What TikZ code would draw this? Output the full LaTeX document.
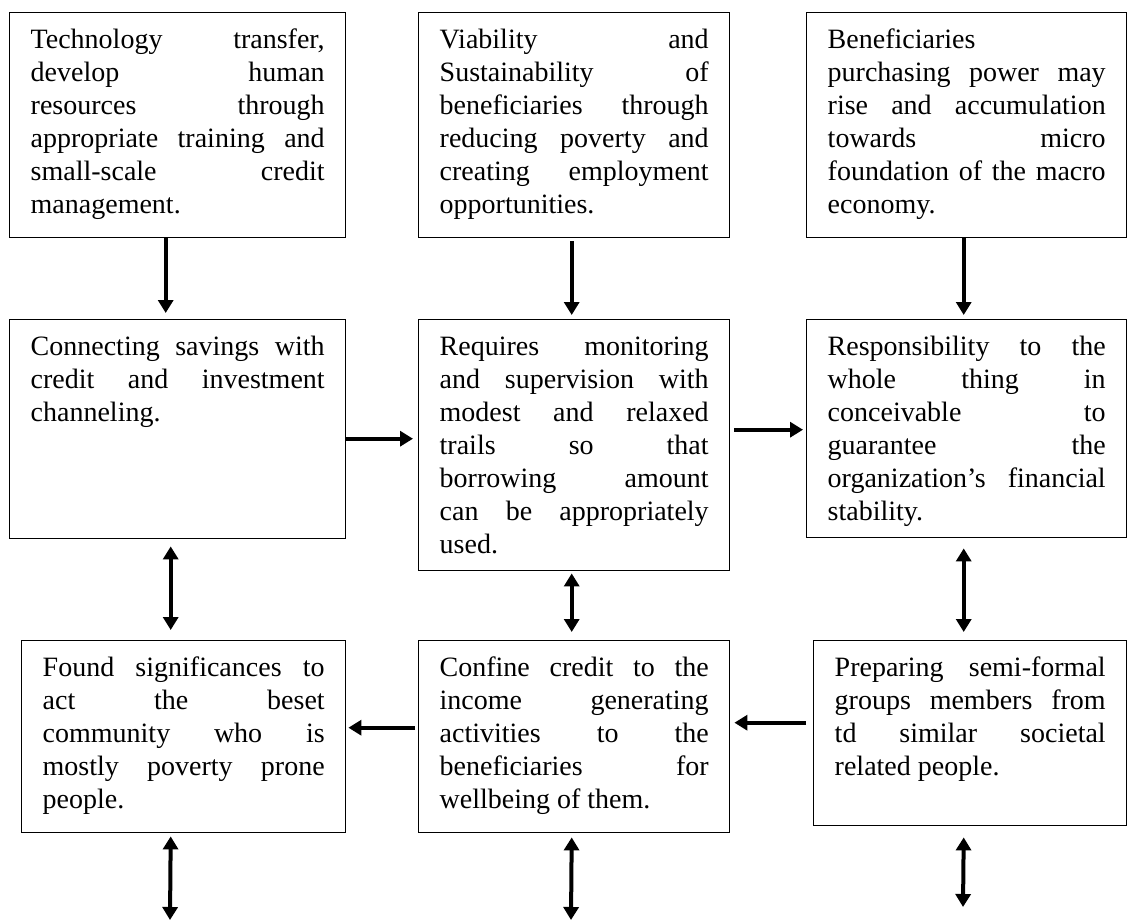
\documentclass[tikz,border=0pt]{standalone}
\usepackage{fontspec}
\setmainfont{Liberation Serif}
\usetikzlibrary{arrows.meta}

\begin{document}
\begin{tikzpicture}[x=0.5pt,y=-0.5pt,
  flowbox/.style={draw, line width=0.7pt, anchor=north west, align=justify,
    inner xsep=10.5pt, inner ysep=0pt, text height=18pt,
    font=\fontsize{14pt}{16.5pt}\selectfont},
  arr/.style={line width=2pt, -{Triangle[length=6.5pt,width=7.5pt]}},
  dbl/.style={line width=2pt, {Triangle[length=6.5pt,width=7.5pt]}-{Triangle[length=6.5pt,width=7.5pt]}}]
\useasboundingbox (0,0) rectangle (1127,920);
\node[flowbox, text width=147pt, text depth=94.5pt] (tech) at (9,12) {Technology transfer,\linebreak develop human\linebreak resources through\linebreak appropriate training and\linebreak small-scale credit\linebreak management.};
\node[flowbox, text width=134.5pt, text depth=94.5pt] (viab) at (418,12) {Viability and\linebreak Sustainability of\linebreak beneficiaries through\linebreak reducing poverty and\linebreak creating employment\linebreak opportunities.};
\node[flowbox, text width=139pt, text depth=94.5pt] (purch) at (806,12) {Beneficiaries\linebreak purchasing power may\linebreak rise and accumulation\linebreak towards micro\linebreak foundation of the macro\linebreak economy.};
\node[flowbox, text width=147pt, text depth=91.5pt] (save) at (9,319) {Connecting savings with\linebreak credit and investment\linebreak channeling.};
\node[flowbox, text width=134.5pt, text depth=107.5pt] (monit) at (418,319) {Requires monitoring\linebreak and supervision with\linebreak modest and relaxed\linebreak trails so that\linebreak borrowing amount\linebreak can be appropriately\linebreak used.};
\node[flowbox, text width=139pt, text depth=91pt] (resp) at (806,319) {Responsibility to the\linebreak whole thing in\linebreak conceivable to\linebreak guarantee the\linebreak organization’s financial\linebreak stability.};
\node[flowbox, text width=141pt, text depth=78pt] (found) at (21,640) {Found significances to\linebreak act the beset\linebreak community who is\linebreak mostly poverty prone\linebreak people.};
\node[flowbox, text width=134.5pt, text depth=78pt] (conf) at (418,640) {Confine credit to the\linebreak income generating\linebreak activities to the\linebreak beneficiaries for\linebreak wellbeing of them.};
\node[flowbox, text width=135.5pt, text depth=74.5pt] (prep) at (813,640) {Preparing semi-formal\linebreak groups members from\linebreak td similar societal\linebreak related people.};
\coordinate (foundend) at (170,920);
\coordinate (confend) at (571,920);
\coordinate (prepend) at (963,907);
\draw[arr] ([xshift=-6pt]tech.south) -- ([xshift=-6pt,yshift=3pt]save.north);
\draw[arr] ([xshift=-1.25pt,yshift=-1.5pt]viab.south) -- ([xshift=-1.25pt,yshift=2pt]monit.north);
\draw[arr] ([xshift=-1.5pt]purch.south) -- ([xshift=-1.5pt,yshift=2pt]resp.north);
\draw[arr] ([yshift=-4.75pt]save.east) -- ([xshift=-2.5pt,yshift=3.25pt]monit.west);
\draw[arr] ([xshift=2pt,yshift=7.75pt]monit.east) -- ([xshift=-1.5pt,yshift=-0.5pt]resp.west);
\draw[dbl] ([xshift=-3.5pt,yshift=-3.5pt]save.south) -- ([xshift=-6.5pt,yshift=5pt]found.north);
\draw[dbl] ([xshift=-1.25pt,yshift=-1pt]monit.south) -- ([xshift=-1.25pt,yshift=4pt]conf.north);
\draw[dbl] ([xshift=-1.5pt,yshift=-5pt]resp.south) -- ([xshift=-3.25pt,yshift=4pt]prep.north);
\draw[arr] ([xshift=-3.5pt,yshift=5.25pt]prep.west) -- ([xshift=2pt,yshift=7pt]conf.east);
\draw[arr] ([xshift=-1.5pt,yshift=4.5pt]conf.west) -- ([xshift=1pt,yshift=4.5pt]found.east);
\draw[dbl] ([xshift=-6.5pt,yshift=-1.5pt]found.south) -- (foundend);
\draw[dbl] ([xshift=-1.25pt,yshift=-2pt]conf.south) -- (confend);
\draw[dbl] ([xshift=-3.25pt,yshift=-5.5pt]prep.south) -- (prepend);
\end{tikzpicture}
\end{document}
